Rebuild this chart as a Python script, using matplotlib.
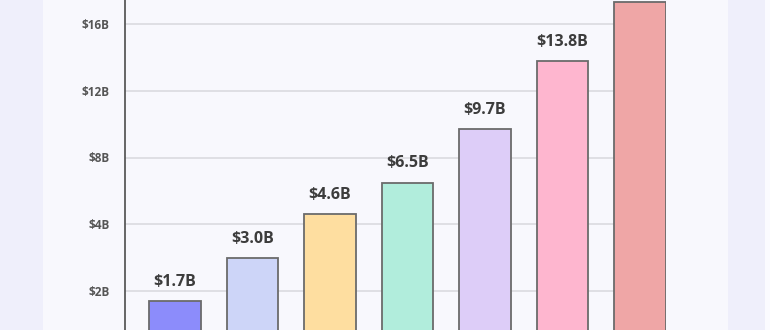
import numpy as np
import matplotlib
matplotlib.use("Agg")
import matplotlib.pyplot as plt
from matplotlib.patches import Rectangle

categories = ["A", "B", "C", "D", "E", "F", "G"]
values = [1.7, 3.0, 4.6, 6.5, 9.7, 13.8, 17.3]
value_labels = ["$1.7B", "$3.0B", "$4.6B", "$6.5B", "$9.7B", "$13.8B", ""]
bar_colors = ["#8C8CFB", "#CDD5F8", "#FEDEA0", "#B1EDDC", "#DDCDF8", "#FEB6CF", "#EFA6A6"]
tick_values = [2, 4, 8, 12, 16]
tick_labels = ["$2B", "$4B", "$8B", "$12B", "$16B"]

# piecewise-linear axis scale (ticks evenly spaced)
scale_pts = np.array([0, 2, 4, 8, 12, 16, 20], dtype=float)
scale_pos = np.arange(len(scale_pts), dtype=float)

def fwd(v):
    return np.interp(v, scale_pts, scale_pos, left=-1, right=7)

def inv(u):
    return np.interp(u, scale_pos, scale_pts)

plt.rcParams['font.family'] = ['Open Sans', 'DejaVu Sans']

W, H = 770, 330
fig = plt.figure(figsize=(W / 100, H / 100), dpi=100)
fig.patch.set_facecolor("#F8F8FD")
fig.patches.append(Rectangle((0, 0), 43 / W, 1, transform=fig.transFigure,
                             facecolor="#EFEFFB", edgecolor="none", zorder=0))
fig.patches.append(Rectangle((728 / W, 0), 37 / W, 1, transform=fig.transFigure,
                             facecolor="#EFEFFB", edgecolor="none", zorder=0))
fig.patches.append(Rectangle((765 / W, 0), 5 / W, 1, transform=fig.transFigure,
                             facecolor="#FBFBFF", edgecolor="none", zorder=0))

# axes extend beyond the visible canvas (cropped view)
px_per_unit = 66.75
y0_px = 291 + px_per_unit        # value 0 position from top
y20_px = 24 - px_per_unit        # value 20 position from top
left, right = 125, 666
ax = fig.add_axes([left / W, (H - y0_px) / H, (right - left) / W, (y0_px - y20_px) / H])
ax.set_facecolor("none")
ax.set_yscale("function", functions=(fwd, inv))
ax.set_ylim(0, 20)

x = np.arange(len(categories))
ax.bar(x, values, width=0.67, color=bar_colors, edgecolor="#6B6B6B", linewidth=1.3, zorder=3)
for xi, v, lab in zip(x, values, value_labels):
    if lab:
        ax.annotate(lab, (xi, v), xytext=(0, 8), textcoords="offset points",
                    ha="center", va="bottom", fontsize=11.5, fontweight="bold",
                    color="#3C3C3C", zorder=4)

ax.set_xlim(-0.645, 6.335)
ax.set_xticks(x)
ax.set_xticklabels([])
ax.set_yticks(tick_values)
ax.set_yticklabels(tick_labels)
ax.tick_params(axis="y", length=0, pad=11, labelsize=8.5, labelcolor="#555555")
for t in ax.get_yticklabels():
    t.set_fontweight("bold")
ax.tick_params(axis="x", length=0)
ax.yaxis.grid(True, color="#DDDDE2", linewidth=1.3, zorder=0)
ax.set_axisbelow(True)
for s in ["top", "right", "bottom"]:
    ax.spines[s].set_visible(False)
ax.spines["left"].set_color("#5A5A5A")
ax.spines["left"].set_linewidth(1.3)

fig.savefig("out.png", dpi=100, facecolor=fig.get_facecolor())
